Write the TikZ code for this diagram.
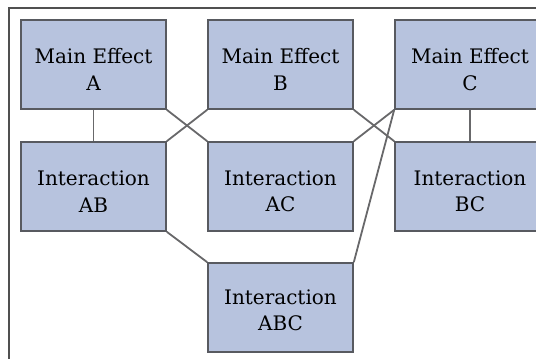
\documentclass[tikz,border=0pt]{standalone}
\usepackage{fontspec}
\setmainfont{DejaVu Serif}
\definecolor{boxfill}{RGB}{183,195,222}
\definecolor{boxline}{RGB}{88,90,96}
\definecolor{linkgray}{RGB}{104,104,106}
\definecolor{framegray}{RGB}{80,80,80}
\begin{document}
\begin{tikzpicture}[x=1pt,y=-1pt,
  box/.style={draw=boxline, line width=1.6pt, fill=boxfill,
    minimum width=145pt, minimum height=89pt, inner sep=0pt},
  widebox/.style={box, minimum width=150pt},
  txt/.style={align=center, inner sep=0pt, text=black,
    font=\fontsize{20}{26.5}\selectfont},
  link/.style={draw=linkgray, line width=1.8pt}]
\useasboundingbox (0,0) rectangle (536,359);
% outer frame (runs past the right and bottom edges)
\draw[draw=framegray, line width=1.6pt] (9,8) rectangle (570,390);

% main effects
\node[box]     (A) at (93.5,64.5)  {};
\node[box]     (B) at (280.5,64.5) {};
\node[widebox] (C) at (470,64.5)   {};
% interactions
\node[box]     (AB)  at (93.5,186.5)  {};
\node[box]     (AC)  at (280.5,186.5) {};
\node[widebox] (BC)  at (470,186.5)   {};
\node[box]     (ABC) at (280.5,307.5) {};

% connectors
\draw[link] (A.south) -- (AB.north);
\draw[link] (A.south east) -- (AC.north west);
\draw[link] (B.south west) -- (AB.north east);
\draw[link] (B.south east) -- (BC.north west);
\draw[link] (C.south west) -- (AC.north east);
\draw[link] (C.south west) -- (ABC.north east);
\draw[link] (C.south) -- (BC.north);
\draw[link] (AB.south east) -- (ABC.north west);

% labels
\node[txt] (A-t)   at ([yshift=-5pt]A.center)   {Main Effect\\A};
\node[txt] (B-t)   at ([yshift=-5pt]B.center)   {Main Effect\\B};
\node[txt] (C-t)   at ([yshift=-5pt]C.center)   {Main Effect\\C};
\node[txt] (AB-t)  at ([yshift=-5pt]AB.center)  {Interaction\\AB};
\node[txt] (AC-t)  at ([yshift=-5pt]AC.center)  {Interaction\\AC};
\node[txt] (BC-t)  at ([yshift=-5pt]BC.center)  {Interaction\\BC};
\node[txt] (ABC-t) at ([yshift=-3pt]ABC.center) {Interaction\\ABC};
\end{tikzpicture}
\end{document}
